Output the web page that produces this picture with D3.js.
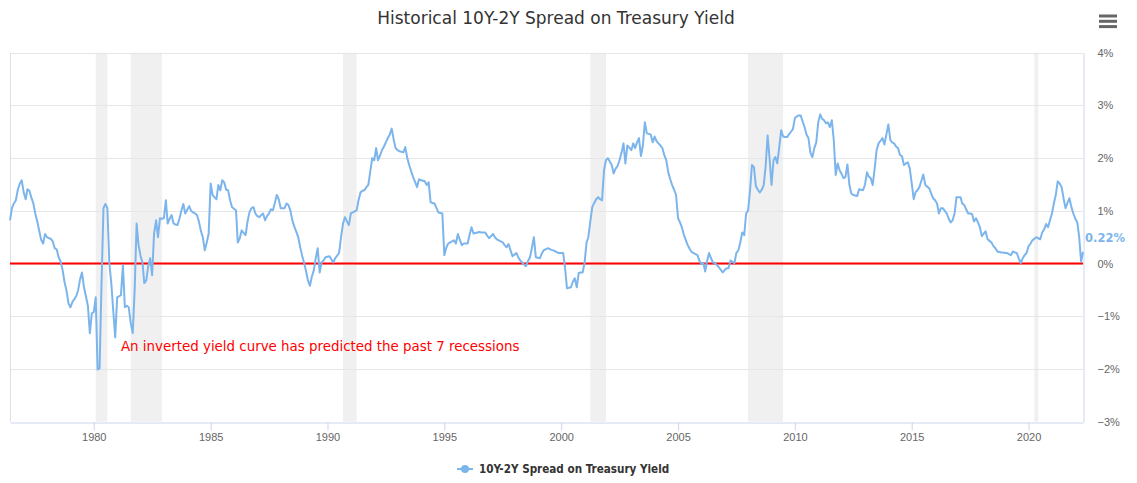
<!DOCTYPE html>
<meta charset="utf-8">
<style>

body {
  margin: 0;
  background: #fff;
}

svg {
  font-family: "DejaVu Sans", sans-serif;
}

.grid line {
  stroke: #e6e6e6;
}

.axis text {
  fill: #666;
  font-size: 11px;
}

</style>
<svg width="1137" height="483"></svg>
<script src="https://d3js.org/d3.v7.min.js"></script>
<script>

// monthly 10Y-2Y spread (%), first value is June 1976
var startMonth = "1976-06";
var spread = [
  0.82, 1.05, 1.14, 1.20, 1.40, 1.52, 1.58,
  1.35, 1.22, 1.41, 1.38, 1.25, 1.14, 0.95, 0.80, 0.62, 0.45, 0.38, 0.56,
  0.50, 0.48, 0.47, 0.42, 0.29, 0.27, 0.12, 0.04, -0.12, -0.35, -0.51, -0.75,
  -0.83, -0.73, -0.68, -0.62, -0.51, -0.30, -0.17, -0.45, -0.62, -0.80, -1.32, -0.95,
  -0.92, -0.64, -2.01, -1.99, -0.40, 1.05, 1.13, 1.05, 0.00, -0.37, -0.90, -1.40,
  -0.64, -0.62, -0.60, -0.03, -0.83, -0.80, -0.83, -1.13, -1.32, -0.51, 0.76, 0.35,
  0.15, 0.01, -0.37, -0.32, -0.05, 0.10, -0.22, 0.57, 0.82, 0.50, 0.86, 0.85,
  0.86, 1.20, 0.76, 0.85, 0.92, 0.76, 0.74, 0.73, 0.85, 1.00, 1.13, 0.95,
  1.02, 1.09, 1.00, 0.97, 0.95, 0.92, 0.80, 0.62, 0.50, 0.25, 0.40, 0.57,
  1.52, 1.30, 1.26, 1.22, 1.49, 1.39, 1.58, 1.54, 1.40, 1.39, 1.20, 1.07,
  1.04, 1.01, 0.40, 0.48, 0.63, 0.58, 0.54, 0.80, 0.98, 1.05, 1.07, 0.95,
  0.90, 0.88, 0.92, 0.95, 0.82, 0.90, 0.95, 1.03, 1.01, 1.15, 1.30, 1.22,
  1.05, 1.05, 1.05, 1.14, 1.11, 1.00, 0.82, 0.70, 0.60, 0.50, 0.31, 0.15,
  0.01, -0.15, -0.32, -0.42, -0.25, -0.13, 0.10, 0.29, -0.17, 0.02, 0.06, 0.12,
  0.13, 0.14, 0.08, 0.02, 0.10, 0.15, 0.20, 0.50, 0.76, 0.88, 0.80, 0.73,
  0.95, 0.97, 0.99, 1.01, 1.20, 1.35, 1.38, 1.39, 1.45, 1.49, 1.75, 2.00,
  1.96, 2.19, 1.96, 2.05, 2.15, 2.22, 2.30, 2.38, 2.45, 2.56, 2.35, 2.19,
  2.15, 2.13, 2.12, 2.11, 2.21, 2.00, 1.87, 1.75, 1.64, 1.55, 1.45, 1.60,
  1.58, 1.57, 1.56, 1.49, 1.54, 1.16, 1.15, 1.14, 1.05, 0.97, 0.96, 0.95,
  0.16, 0.30, 0.38, 0.40, 0.42, 0.44, 0.38, 0.56, 0.45, 0.35, 0.38, 0.38,
  0.38, 0.55, 0.69, 0.57, 0.58, 0.59, 0.60, 0.59, 0.59, 0.59, 0.53, 0.48,
  0.52, 0.56, 0.50, 0.46, 0.44, 0.42, 0.40, 0.35, 0.31, 0.37, 0.25, 0.14,
  0.17, 0.20, 0.12, 0.06, 0.02, -0.02, -0.05, 0.05, 0.12, 0.30, 0.50, 0.12,
  0.11, 0.10, 0.18, 0.25, 0.27, 0.29, 0.28, 0.26, 0.25, 0.23, 0.21, 0.20,
  0.20, 0.20, -0.07, -0.47, -0.46, -0.45, -0.35, -0.28, -0.45, -0.18, -0.17, -0.17,
  0.01, 0.40, 0.50, 0.80, 1.07, 1.15, 1.22, 1.26, 1.22, 1.20, 1.77, 1.96,
  2.00, 1.93, 1.87, 1.71, 1.80, 1.85, 1.96, 2.10, 2.28, 1.90, 2.24, 2.20,
  2.15, 2.28, 2.19, 2.30, 2.38, 2.04, 2.24, 2.68, 2.47, 2.46, 2.45, 2.30,
  2.41, 2.32, 2.28, 2.24, 2.19, 2.05, 1.96, 1.73, 1.60, 1.49, 1.40, 1.30,
  0.86, 0.78, 0.69, 0.55, 0.45, 0.35, 0.28, 0.22, 0.20, 0.18, 0.16, 0.05,
  -0.01, 0.01, -0.15, 0.05, 0.20, 0.10, 0.02, 0.01, -0.03, -0.07, -0.12, -0.17,
  -0.12, -0.09, -0.09, 0.06, 0.03, 0.01, 0.20, 0.25, 0.40, 0.59, 0.54, 0.95,
  1.01, 1.40, 1.87, 1.83, 1.47, 1.40, 1.35, 1.40, 1.49, 1.85, 2.43, 2.00,
  1.49, 1.96, 2.02, 1.90, 2.20, 2.53, 2.41, 2.40, 2.40, 2.45, 2.50, 2.55,
  2.76, 2.79, 2.81, 2.81, 2.70, 2.59, 2.45, 2.38, 2.10, 2.02, 2.19, 2.30,
  2.68, 2.83, 2.75, 2.72, 2.66, 2.68, 2.59, 2.72, 2.34, 1.68, 1.90, 1.77,
  1.70, 1.62, 1.64, 1.88, 1.50, 1.33, 1.30, 1.29, 1.28, 1.41, 1.40, 1.39,
  1.50, 1.73, 1.65, 1.62, 1.49, 1.80, 2.15, 2.28, 2.33, 2.38, 2.26, 2.45,
  2.64, 2.34, 2.30, 2.28, 2.22, 2.19, 2.06, 2.04, 1.87, 1.90, 1.92, 1.81,
  1.52, 1.22, 1.35, 1.39, 1.45, 1.57, 1.69, 1.49, 1.46, 1.43, 1.33, 1.24,
  1.20, 1.14, 0.95, 1.05, 1.05, 1.00, 0.95, 0.85, 0.78, 0.82, 0.95, 1.26,
  1.26, 1.26, 1.14, 1.11, 1.03, 0.95, 0.95, 0.94, 0.80, 0.86, 0.78, 0.69,
  0.52, 0.57, 0.61, 0.46, 0.43, 0.40, 0.33, 0.29, 0.23, 0.22, 0.21, 0.21,
  0.20, 0.20, 0.18, 0.16, 0.23, 0.21, 0.20, 0.10, 0.01, 0.10, 0.16, 0.20,
  0.33, 0.38, 0.44, 0.47, 0.50, 0.48, 0.46, 0.59, 0.65, 0.75, 0.69, 0.82,
  0.95, 1.15, 1.30, 1.56, 1.52, 1.45, 1.24, 1.05, 1.15, 1.24, 1.07, 0.95,
  0.85, 0.78, 0.52, 0.04, 0.22
];

// shaded recession periods
var recessions = [
  ["1980-02", "1980-08"],
  ["1981-08", "1982-12"],
  ["1990-09", "1991-04"],
  ["2001-04", "2001-12"],
  ["2008-01", "2009-07"],
  ["2020-04", "2020-06"]
];

var yTicks = [-3, -2, -1, 0, 1, 2, 3, 4];
var xTickYears = [1980, 1985, 1990, 1995, 2000, 2005, 2010, 2015, 2020];

var titleText = "Historical 10Y-2Y Spread on Treasury Yield";
var seriesName = "10Y-2Y Spread on Treasury Yield";
var noteText = "An inverted yield curve has predicted the past 7 recessions";

var parseMonth = d3.timeParse("%Y-%m");
var firstMonth = parseMonth(startMonth);
var data = spread.map(function(v, i) {
  return {date: d3.timeMonth.offset(firstMonth, i), value: v};
});

var svg = d3.select("svg"),
    plotLeft = 10, plotRight = 1083, plotTop = 52.7, plotBottom = 421.7;

var x = d3.scaleTime()
    .domain(d3.extent(data, function(d) { return d.date; }))
    .range([plotLeft, plotRight]);

var y = d3.scaleLinear()
    .domain([-3, 4])
    .range([plotBottom, plotTop]);

// title
svg.append("text")
    .attr("x", 556)
    .attr("y", 24)
    .attr("text-anchor", "middle")
    .style("font-size", "17px")
    .style("fill", "#333")
    .text(titleText);

// menu icon
svg.append("g")
    .selectAll("rect")
    .data([0, 1, 2])
  .enter().append("rect")
    .attr("x", 1099)
    .attr("y", function(d) { return 14.5 + d * 5.3; })
    .attr("width", 18)
    .attr("height", 3)
    .style("fill", "#666");

// recession bands
svg.append("g")
    .selectAll("rect")
    .data(recessions)
  .enter().append("rect")
    .attr("x", function(d) { return x(parseMonth(d[0])); })
    .attr("width", function(d) { return x(parseMonth(d[1])) - x(parseMonth(d[0])); })
    .attr("y", plotTop)
    .attr("height", plotBottom - plotTop)
    .style("fill", "#f0f0f0");

// grid
svg.append("g")
    .attr("class", "grid")
    .selectAll("line")
    .data(yTicks.filter(function(d) { return d > -3; }))
  .enter().append("line")
    .attr("x1", plotLeft)
    .attr("x2", plotRight)
    .attr("y1", function(d) { return Math.round(y(d)) + 0.5; })
    .attr("y2", function(d) { return Math.round(y(d)) + 0.5; });

svg.append("line")
    .attr("x1", plotLeft + 0.5).attr("x2", plotLeft + 0.5)
    .attr("y1", plotTop).attr("y2", plotBottom)
    .style("stroke", "#e0e0e0");

// y axis on the right
var yAxis = svg.append("g")
    .attr("class", "axis")
    .attr("transform", "translate(" + (plotRight + 0.5) + ",0)")
    .call(d3.axisRight(y)
        .tickValues(yTicks)
        .tickSize(0)
        .tickPadding(14)
        .tickFormat(function(d) { return (d < 0 ? "\u2212" + (-d) : d) + "%"; }));
yAxis.select(".domain").style("stroke", "#ccd6eb");

// x axis
var xAxis = svg.append("g")
    .attr("class", "axis")
    .attr("transform", "translate(0," + (Math.round(plotBottom) + 0.5) + ")")
    .call(d3.axisBottom(x)
        .tickValues(xTickYears.map(function(yr) { return new Date(yr, 0, 1); }))
        .tickSize(8)
        .tickPadding(3)
        .tickSizeOuter(0)
        .tickFormat(d3.timeFormat("%Y")));
xAxis.selectAll("line, .domain").style("stroke", "#ccd6eb");

// zero line
svg.append("line")
    .attr("x1", plotLeft)
    .attr("x2", plotRight)
    .attr("y1", y(0))
    .attr("y2", y(0))
    .style("stroke", "#ff0000")
    .style("stroke-width", 2);

// series
var line = d3.line()
    .x(function(d) { return x(d.date); })
    .y(function(d) { return y(d.value); });

svg.append("path")
    .datum(data)
    .attr("d", line)
    .style("fill", "none")
    .style("stroke", "#7cb5ec")
    .style("stroke-width", 2)
    .style("stroke-linejoin", "round");

// last value label
var last = data[data.length - 1];
svg.append("text")
    .attr("x", x(last.date) + 2)
    .attr("y", y(last.value) - 10)
    .style("font-family", "'DejaVu Sans Condensed', 'DejaVu Sans', sans-serif")
    .style("font-weight", "bold")
    .style("font-size", "12.8px")
    .style("fill", "#7cb5ec")
    .text(d3.format(".2f")(last.value) + "%");

// annotation
svg.append("text")
    .attr("x", x(new Date(1981, 2, 1)))
    .attr("y", y(-1.65))
    .style("font-size", "13.4px")
    .style("fill", "#ff0000")
    .text(noteText);

// legend
var legend = svg.append("g")
    .attr("transform", "translate(457,469)");

legend.append("line")
    .attr("x1", 0)
    .attr("x2", 16)
    .style("stroke", "#7cb5ec")
    .style("stroke-width", 2);

legend.append("circle")
    .attr("cx", 8)
    .attr("r", 4)
    .style("fill", "#7cb5ec");

legend.append("text")
    .attr("x", 22)
    .attr("dy", "0.35em")
    .style("font-family", "'DejaVu Sans Condensed', 'DejaVu Sans', sans-serif")
    .style("font-weight", "bold")
    .style("font-size", "11.6px")
    .style("fill", "#333")
    .text(seriesName);

</script>
